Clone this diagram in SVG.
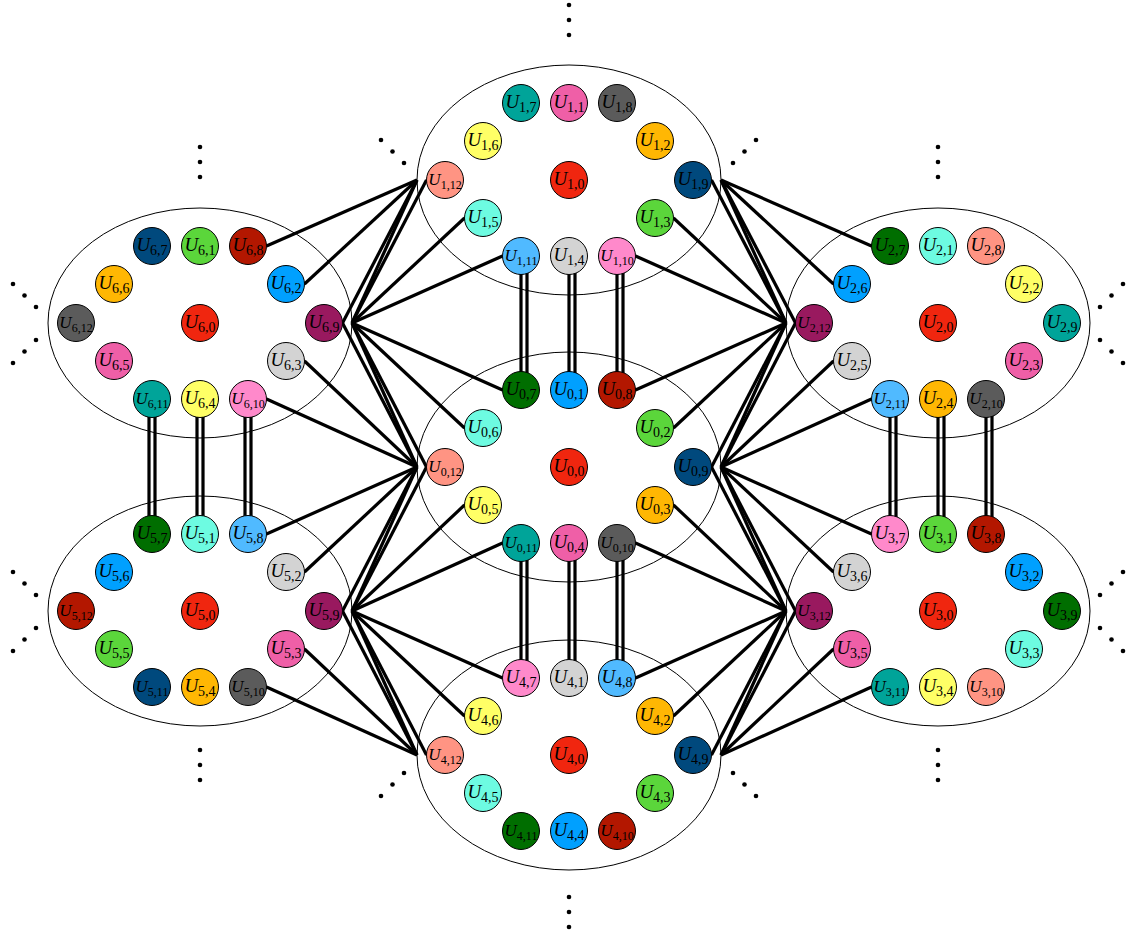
<svg xmlns="http://www.w3.org/2000/svg" width="1132" height="936" viewBox="0 0 1132 936">
<style>
.cl{fill:none;stroke:#000;stroke-width:1}
.e line{stroke:#000;stroke-width:3.2}
.dots circle{fill:#000;stroke:none}
.n{stroke:#000;stroke-width:1}
text{font-family:"Liberation Serif",serif;text-anchor:middle;fill:#000}
.t .u{font-style:italic;font-size:19px}
.t .s{font-size:14px}
.t2 .u{font-style:italic;font-size:17px}
.t2 .s{font-size:12px}
.red{fill:#f0260f}.dgreen{fill:#006e00}.blue{fill:#00a0ff}.dred{fill:#b31700}
.aqua{fill:#6dfbe1}.green{fill:#5bd63b}.salmon{fill:#ff9483}.dblue{fill:#00497d}
.yellow{fill:#ffff66}.orange{fill:#ffb703}.teal{fill:#00a499}.pink{fill:#ef5fa7}
.gray{fill:#5b5b5b}.lgray{fill:#d3d3d3}.lblue{fill:#50baff}.lpink{fill:#ff89cb}.purple{fill:#99195f}
</style>
<g id="clusters">
<ellipse id="c0" class="cl" cx="569" cy="467" rx="152" ry="115"/>
<ellipse id="c1" class="cl" cx="569" cy="180" rx="152" ry="115"/>
<ellipse id="c2" class="cl" cx="938" cy="323" rx="152" ry="115"/>
<ellipse id="c3" class="cl" cx="938" cy="611" rx="152" ry="115"/>
<ellipse id="c4" class="cl" cx="569" cy="755" rx="152" ry="115"/>
<ellipse id="c5" class="cl" cx="200" cy="611" rx="152" ry="115"/>
<ellipse id="c6" class="cl" cx="200" cy="323" rx="152" ry="115"/>
</g>
<g id="ellipsis-dots" class="dots">
<circle cx="569" cy="5" r="2.3"/><circle cx="569" cy="20" r="2.3"/><circle cx="569" cy="35" r="2.3"/>
<circle cx="569" cy="897" r="2.3"/><circle cx="569" cy="912" r="2.3"/><circle cx="569" cy="927" r="2.3"/>
<circle cx="200" cy="147" r="2.3"/><circle cx="200" cy="162" r="2.3"/><circle cx="200" cy="177" r="2.3"/>
<circle cx="938" cy="147" r="2.3"/><circle cx="938" cy="162" r="2.3"/><circle cx="938" cy="177" r="2.3"/>
<circle cx="200" cy="750" r="2.3"/><circle cx="200" cy="765" r="2.3"/><circle cx="200" cy="780" r="2.3"/>
<circle cx="938" cy="750" r="2.3"/><circle cx="938" cy="765" r="2.3"/><circle cx="938" cy="780" r="2.3"/>
<circle cx="381" cy="140" r="2.3"/><circle cx="392.5" cy="151.5" r="2.3"/><circle cx="404" cy="163" r="2.3"/>
<circle cx="733" cy="163" r="2.3"/><circle cx="744.5" cy="151.5" r="2.3"/><circle cx="756" cy="140" r="2.3"/>
<circle cx="381" cy="796" r="2.3"/><circle cx="392.5" cy="784.5" r="2.3"/><circle cx="404" cy="773" r="2.3"/>
<circle cx="733" cy="773" r="2.3"/><circle cx="744.5" cy="784.5" r="2.3"/><circle cx="756" cy="796" r="2.3"/>
<circle cx="13" cy="284" r="2.3"/><circle cx="24.5" cy="295.5" r="2.3"/><circle cx="36" cy="307" r="2.3"/>
<circle cx="13" cy="363" r="2.3"/><circle cx="24.5" cy="351.5" r="2.3"/><circle cx="36" cy="340" r="2.3"/>
<circle cx="13" cy="572" r="2.3"/><circle cx="24.5" cy="583.5" r="2.3"/><circle cx="36" cy="595" r="2.3"/>
<circle cx="13" cy="651" r="2.3"/><circle cx="24.5" cy="639.5" r="2.3"/><circle cx="36" cy="628" r="2.3"/>
<circle cx="1100" cy="307" r="2.3"/><circle cx="1111.5" cy="295.5" r="2.3"/><circle cx="1123" cy="284" r="2.3"/>
<circle cx="1100" cy="340" r="2.3"/><circle cx="1111.5" cy="351.5" r="2.3"/><circle cx="1123" cy="363" r="2.3"/>
<circle cx="1100" cy="595" r="2.3"/><circle cx="1111.5" cy="583.5" r="2.3"/><circle cx="1123" cy="572" r="2.3"/>
<circle cx="1100" cy="628" r="2.3"/><circle cx="1111.5" cy="639.5" r="2.3"/><circle cx="1123" cy="651" r="2.3"/>
</g>
<g id="connectors" class="e">
<!-- C6 to C1 -->
<line x1="266.5" y1="246" x2="417" y2="180"/>
<line x1="304.5" y1="284" x2="417" y2="180"/>
<line x1="352" y1="323" x2="464.5" y2="218"/>
<line x1="352" y1="323" x2="502.5" y2="256"/>
<line x1="342.5" y1="323" x2="417" y2="180"/>
<line x1="352" y1="323" x2="417" y2="180"/>
<line x1="352" y1="323" x2="426.5" y2="180"/>
<!-- C6 to C0 -->
<line x1="304.5" y1="361" x2="417" y2="467"/>
<line x1="266.5" y1="399" x2="417" y2="467"/>
<line x1="352" y1="323" x2="502.5" y2="390"/>
<line x1="352" y1="323" x2="464.5" y2="428"/>
<line x1="342.5" y1="323" x2="417" y2="467"/>
<line x1="352" y1="323" x2="417" y2="467"/>
<line x1="352" y1="323" x2="426.5" y2="467"/>
<!-- C5 to C0 -->
<line x1="266.5" y1="534" x2="417" y2="467"/>
<line x1="304.5" y1="572" x2="417" y2="467"/>
<line x1="352" y1="611" x2="464.5" y2="505"/>
<line x1="352" y1="611" x2="502.5" y2="543"/>
<line x1="342.5" y1="611" x2="417" y2="467"/>
<line x1="352" y1="611" x2="417" y2="467"/>
<line x1="352" y1="611" x2="426.5" y2="467"/>
<!-- C5 to C4 -->
<line x1="304.5" y1="649" x2="417" y2="755"/>
<line x1="266.5" y1="687" x2="417" y2="755"/>
<line x1="352" y1="611" x2="502.5" y2="678"/>
<line x1="352" y1="611" x2="464.5" y2="716"/>
<line x1="342.5" y1="611" x2="417" y2="755"/>
<line x1="352" y1="611" x2="417" y2="755"/>
<line x1="352" y1="611" x2="426.5" y2="755"/>
<!-- C1 to C2 -->
<line x1="673.5" y1="218" x2="786" y2="323"/>
<line x1="635.5" y1="256" x2="786" y2="323"/>
<line x1="721" y1="180" x2="871.5" y2="246"/>
<line x1="721" y1="180" x2="833.5" y2="284"/>
<line x1="711.5" y1="180" x2="786" y2="323"/>
<line x1="721" y1="180" x2="786" y2="323"/>
<line x1="721" y1="180" x2="795.5" y2="323"/>
<!-- C0 to C2 -->
<line x1="635.5" y1="390" x2="786" y2="323"/>
<line x1="673.5" y1="428" x2="786" y2="323"/>
<line x1="721" y1="467" x2="833.5" y2="361"/>
<line x1="721" y1="467" x2="871.5" y2="399"/>
<line x1="711.5" y1="467" x2="786" y2="323"/>
<line x1="721" y1="467" x2="786" y2="323"/>
<line x1="721" y1="467" x2="795.5" y2="323"/>
<!-- C0 to C3 -->
<line x1="673.5" y1="505" x2="786" y2="611"/>
<line x1="635.5" y1="543" x2="786" y2="611"/>
<line x1="721" y1="467" x2="871.5" y2="534"/>
<line x1="721" y1="467" x2="833.5" y2="572"/>
<line x1="711.5" y1="467" x2="786" y2="611"/>
<line x1="721" y1="467" x2="786" y2="611"/>
<line x1="721" y1="467" x2="795.5" y2="611"/>
<!-- C4 to C3 -->
<line x1="635.5" y1="678" x2="786" y2="611"/>
<line x1="673.5" y1="716" x2="786" y2="611"/>
<line x1="721" y1="755" x2="833.5" y2="649"/>
<line x1="721" y1="755" x2="871.5" y2="687"/>
<line x1="711.5" y1="755" x2="786" y2="611"/>
<line x1="721" y1="755" x2="786" y2="611"/>
<line x1="721" y1="755" x2="795.5" y2="611"/>
<!-- vertical double lines -->
<line x1="521" y1="270" x2="521" y2="376"/><line x1="527" y1="270" x2="527" y2="376"/>
<line x1="569" y1="270" x2="569" y2="376"/><line x1="575" y1="270" x2="575" y2="376"/>
<line x1="617" y1="270" x2="617" y2="376"/><line x1="623" y1="270" x2="623" y2="376"/>
<line x1="521" y1="557" x2="521" y2="664"/><line x1="527" y1="557" x2="527" y2="664"/>
<line x1="569" y1="557" x2="569" y2="664"/><line x1="575" y1="557" x2="575" y2="664"/>
<line x1="617" y1="557" x2="617" y2="664"/><line x1="623" y1="557" x2="623" y2="664"/>
<line x1="149" y1="413" x2="149" y2="520"/><line x1="155" y1="413" x2="155" y2="520"/>
<line x1="197" y1="413" x2="197" y2="520"/><line x1="203" y1="413" x2="203" y2="520"/>
<line x1="245" y1="413" x2="245" y2="520"/><line x1="251" y1="413" x2="251" y2="520"/>
<line x1="890" y1="413" x2="890" y2="520"/><line x1="896" y1="413" x2="896" y2="520"/>
<line x1="938" y1="413" x2="938" y2="520"/><line x1="944" y1="413" x2="944" y2="520"/>
<line x1="986" y1="413" x2="986" y2="520"/><line x1="992" y1="413" x2="992" y2="520"/>
</g>
<!-- Cluster 0 -->
<g id="u0-0"><circle class="n red" cx="569" cy="467" r="18.5"/><text class="t" x="569" y="472"><tspan class="u">U</tspan><tspan class="s" dy="3.5">0,0</tspan></text></g>
<g id="u0-1"><circle class="n blue" cx="569" cy="390" r="18.5"/><text class="t" x="569" y="395"><tspan class="u">U</tspan><tspan class="s" dy="3.5">0,1</tspan></text></g>
<g id="u0-2"><circle class="n green" cx="655" cy="428" r="18.5"/><text class="t" x="655" y="433"><tspan class="u">U</tspan><tspan class="s" dy="3.5">0,2</tspan></text></g>
<g id="u0-3"><circle class="n orange" cx="655" cy="505" r="18.5"/><text class="t" x="655" y="510"><tspan class="u">U</tspan><tspan class="s" dy="3.5">0,3</tspan></text></g>
<g id="u0-4"><circle class="n pink" cx="569" cy="543" r="18.5"/><text class="t" x="569" y="548"><tspan class="u">U</tspan><tspan class="s" dy="3.5">0,4</tspan></text></g>
<g id="u0-5"><circle class="n yellow" cx="483" cy="505" r="18.5"/><text class="t" x="483" y="510"><tspan class="u">U</tspan><tspan class="s" dy="3.5">0,5</tspan></text></g>
<g id="u0-6"><circle class="n aqua" cx="483" cy="428" r="18.5"/><text class="t" x="483" y="433"><tspan class="u">U</tspan><tspan class="s" dy="3.5">0,6</tspan></text></g>
<g id="u0-7"><circle class="n dgreen" cx="521" cy="390" r="18.5"/><text class="t" x="521" y="395"><tspan class="u">U</tspan><tspan class="s" dy="3.5">0,7</tspan></text></g>
<g id="u0-8"><circle class="n dred" cx="617" cy="390" r="18.5"/><text class="t" x="617" y="395"><tspan class="u">U</tspan><tspan class="s" dy="3.5">0,8</tspan></text></g>
<g id="u0-9"><circle class="n dblue" cx="693" cy="467" r="18.5"/><text class="t" x="693" y="472"><tspan class="u">U</tspan><tspan class="s" dy="3.5">0,9</tspan></text></g>
<g id="u0-10"><circle class="n gray" cx="617" cy="543" r="18.5"/><text class="t2" x="617" y="548"><tspan class="u">U</tspan><tspan class="s" dy="3.5">0,10</tspan></text></g>
<g id="u0-11"><circle class="n teal" cx="521" cy="543" r="18.5"/><text class="t2" x="521" y="548"><tspan class="u">U</tspan><tspan class="s" dy="3.5">0,11</tspan></text></g>
<g id="u0-12"><circle class="n salmon" cx="445" cy="467" r="18.5"/><text class="t2" x="445" y="472"><tspan class="u">U</tspan><tspan class="s" dy="3.5">0,12</tspan></text></g>
<!-- Cluster 1 -->
<g id="u1-0"><circle class="n red" cx="569" cy="180" r="18.5"/><text class="t" x="569" y="185"><tspan class="u">U</tspan><tspan class="s" dy="3.5">1,0</tspan></text></g>
<g id="u1-1"><circle class="n pink" cx="569" cy="103" r="18.5"/><text class="t" x="569" y="108"><tspan class="u">U</tspan><tspan class="s" dy="3.5">1,1</tspan></text></g>
<g id="u1-2"><circle class="n orange" cx="655" cy="141" r="18.5"/><text class="t" x="655" y="146"><tspan class="u">U</tspan><tspan class="s" dy="3.5">1,2</tspan></text></g>
<g id="u1-3"><circle class="n green" cx="655" cy="218" r="18.5"/><text class="t" x="655" y="223"><tspan class="u">U</tspan><tspan class="s" dy="3.5">1,3</tspan></text></g>
<g id="u1-4"><circle class="n lgray" cx="569" cy="256" r="18.5"/><text class="t" x="569" y="261"><tspan class="u">U</tspan><tspan class="s" dy="3.5">1,4</tspan></text></g>
<g id="u1-5"><circle class="n aqua" cx="483" cy="218" r="18.5"/><text class="t" x="483" y="223"><tspan class="u">U</tspan><tspan class="s" dy="3.5">1,5</tspan></text></g>
<g id="u1-6"><circle class="n yellow" cx="483" cy="141" r="18.5"/><text class="t" x="483" y="146"><tspan class="u">U</tspan><tspan class="s" dy="3.5">1,6</tspan></text></g>
<g id="u1-7"><circle class="n teal" cx="521" cy="103" r="18.5"/><text class="t" x="521" y="108"><tspan class="u">U</tspan><tspan class="s" dy="3.5">1,7</tspan></text></g>
<g id="u1-8"><circle class="n gray" cx="617" cy="103" r="18.5"/><text class="t" x="617" y="108"><tspan class="u">U</tspan><tspan class="s" dy="3.5">1,8</tspan></text></g>
<g id="u1-9"><circle class="n dblue" cx="693" cy="180" r="18.5"/><text class="t" x="693" y="185"><tspan class="u">U</tspan><tspan class="s" dy="3.5">1,9</tspan></text></g>
<g id="u1-10"><circle class="n lpink" cx="617" cy="256" r="18.5"/><text class="t2" x="617" y="261"><tspan class="u">U</tspan><tspan class="s" dy="3.5">1,10</tspan></text></g>
<g id="u1-11"><circle class="n lblue" cx="521" cy="256" r="18.5"/><text class="t2" x="521" y="261"><tspan class="u">U</tspan><tspan class="s" dy="3.5">1,11</tspan></text></g>
<g id="u1-12"><circle class="n salmon" cx="445" cy="180" r="18.5"/><text class="t2" x="445" y="185"><tspan class="u">U</tspan><tspan class="s" dy="3.5">1,12</tspan></text></g>
<!-- Cluster 2 -->
<g id="u2-0"><circle class="n red" cx="938" cy="323" r="18.5"/><text class="t" x="938" y="328"><tspan class="u">U</tspan><tspan class="s" dy="3.5">2,0</tspan></text></g>
<g id="u2-1"><circle class="n aqua" cx="938" cy="246" r="18.5"/><text class="t" x="938" y="251"><tspan class="u">U</tspan><tspan class="s" dy="3.5">2,1</tspan></text></g>
<g id="u2-2"><circle class="n yellow" cx="1024" cy="284" r="18.5"/><text class="t" x="1024" y="289"><tspan class="u">U</tspan><tspan class="s" dy="3.5">2,2</tspan></text></g>
<g id="u2-3"><circle class="n pink" cx="1024" cy="361" r="18.5"/><text class="t" x="1024" y="366"><tspan class="u">U</tspan><tspan class="s" dy="3.5">2,3</tspan></text></g>
<g id="u2-4"><circle class="n orange" cx="938" cy="399" r="18.5"/><text class="t" x="938" y="404"><tspan class="u">U</tspan><tspan class="s" dy="3.5">2,4</tspan></text></g>
<g id="u2-5"><circle class="n lgray" cx="852" cy="361" r="18.5"/><text class="t" x="852" y="366"><tspan class="u">U</tspan><tspan class="s" dy="3.5">2,5</tspan></text></g>
<g id="u2-6"><circle class="n blue" cx="852" cy="284" r="18.5"/><text class="t" x="852" y="289"><tspan class="u">U</tspan><tspan class="s" dy="3.5">2,6</tspan></text></g>
<g id="u2-7"><circle class="n dgreen" cx="890" cy="246" r="18.5"/><text class="t" x="890" y="251"><tspan class="u">U</tspan><tspan class="s" dy="3.5">2,7</tspan></text></g>
<g id="u2-8"><circle class="n salmon" cx="986" cy="246" r="18.5"/><text class="t" x="986" y="251"><tspan class="u">U</tspan><tspan class="s" dy="3.5">2,8</tspan></text></g>
<g id="u2-9"><circle class="n teal" cx="1062" cy="323" r="18.5"/><text class="t" x="1062" y="328"><tspan class="u">U</tspan><tspan class="s" dy="3.5">2,9</tspan></text></g>
<g id="u2-10"><circle class="n gray" cx="986" cy="399" r="18.5"/><text class="t2" x="986" y="404"><tspan class="u">U</tspan><tspan class="s" dy="3.5">2,10</tspan></text></g>
<g id="u2-11"><circle class="n lblue" cx="890" cy="399" r="18.5"/><text class="t2" x="890" y="404"><tspan class="u">U</tspan><tspan class="s" dy="3.5">2,11</tspan></text></g>
<g id="u2-12"><circle class="n purple" cx="814" cy="323" r="18.5"/><text class="t2" x="814" y="328"><tspan class="u">U</tspan><tspan class="s" dy="3.5">2,12</tspan></text></g>
<!-- Cluster 3 -->
<g id="u3-0"><circle class="n red" cx="938" cy="611" r="18.5"/><text class="t" x="938" y="616"><tspan class="u">U</tspan><tspan class="s" dy="3.5">3,0</tspan></text></g>
<g id="u3-1"><circle class="n green" cx="938" cy="534" r="18.5"/><text class="t" x="938" y="539"><tspan class="u">U</tspan><tspan class="s" dy="3.5">3,1</tspan></text></g>
<g id="u3-2"><circle class="n blue" cx="1024" cy="572" r="18.5"/><text class="t" x="1024" y="577"><tspan class="u">U</tspan><tspan class="s" dy="3.5">3,2</tspan></text></g>
<g id="u3-3"><circle class="n aqua" cx="1024" cy="649" r="18.5"/><text class="t" x="1024" y="654"><tspan class="u">U</tspan><tspan class="s" dy="3.5">3,3</tspan></text></g>
<g id="u3-4"><circle class="n yellow" cx="938" cy="687" r="18.5"/><text class="t" x="938" y="692"><tspan class="u">U</tspan><tspan class="s" dy="3.5">3,4</tspan></text></g>
<g id="u3-5"><circle class="n pink" cx="852" cy="649" r="18.5"/><text class="t" x="852" y="654"><tspan class="u">U</tspan><tspan class="s" dy="3.5">3,5</tspan></text></g>
<g id="u3-6"><circle class="n lgray" cx="852" cy="572" r="18.5"/><text class="t" x="852" y="577"><tspan class="u">U</tspan><tspan class="s" dy="3.5">3,6</tspan></text></g>
<g id="u3-7"><circle class="n lpink" cx="890" cy="534" r="18.5"/><text class="t" x="890" y="539"><tspan class="u">U</tspan><tspan class="s" dy="3.5">3,7</tspan></text></g>
<g id="u3-8"><circle class="n dred" cx="986" cy="534" r="18.5"/><text class="t" x="986" y="539"><tspan class="u">U</tspan><tspan class="s" dy="3.5">3,8</tspan></text></g>
<g id="u3-9"><circle class="n dgreen" cx="1062" cy="611" r="18.5"/><text class="t" x="1062" y="616"><tspan class="u">U</tspan><tspan class="s" dy="3.5">3,9</tspan></text></g>
<g id="u3-10"><circle class="n salmon" cx="986" cy="687" r="18.5"/><text class="t2" x="986" y="692"><tspan class="u">U</tspan><tspan class="s" dy="3.5">3,10</tspan></text></g>
<g id="u3-11"><circle class="n teal" cx="890" cy="687" r="18.5"/><text class="t2" x="890" y="692"><tspan class="u">U</tspan><tspan class="s" dy="3.5">3,11</tspan></text></g>
<g id="u3-12"><circle class="n purple" cx="814" cy="611" r="18.5"/><text class="t2" x="814" y="616"><tspan class="u">U</tspan><tspan class="s" dy="3.5">3,12</tspan></text></g>
<!-- Cluster 4 -->
<g id="u4-0"><circle class="n red" cx="569" cy="755" r="18.5"/><text class="t" x="569" y="760"><tspan class="u">U</tspan><tspan class="s" dy="3.5">4,0</tspan></text></g>
<g id="u4-1"><circle class="n lgray" cx="569" cy="678" r="18.5"/><text class="t" x="569" y="683"><tspan class="u">U</tspan><tspan class="s" dy="3.5">4,1</tspan></text></g>
<g id="u4-2"><circle class="n orange" cx="655" cy="716" r="18.5"/><text class="t" x="655" y="721"><tspan class="u">U</tspan><tspan class="s" dy="3.5">4,2</tspan></text></g>
<g id="u4-3"><circle class="n green" cx="655" cy="793" r="18.5"/><text class="t" x="655" y="798"><tspan class="u">U</tspan><tspan class="s" dy="3.5">4,3</tspan></text></g>
<g id="u4-4"><circle class="n blue" cx="569" cy="831" r="18.5"/><text class="t" x="569" y="836"><tspan class="u">U</tspan><tspan class="s" dy="3.5">4,4</tspan></text></g>
<g id="u4-5"><circle class="n aqua" cx="483" cy="793" r="18.5"/><text class="t" x="483" y="798"><tspan class="u">U</tspan><tspan class="s" dy="3.5">4,5</tspan></text></g>
<g id="u4-6"><circle class="n yellow" cx="483" cy="716" r="18.5"/><text class="t" x="483" y="721"><tspan class="u">U</tspan><tspan class="s" dy="3.5">4,6</tspan></text></g>
<g id="u4-7"><circle class="n lpink" cx="521" cy="678" r="18.5"/><text class="t" x="521" y="683"><tspan class="u">U</tspan><tspan class="s" dy="3.5">4,7</tspan></text></g>
<g id="u4-8"><circle class="n lblue" cx="617" cy="678" r="18.5"/><text class="t" x="617" y="683"><tspan class="u">U</tspan><tspan class="s" dy="3.5">4,8</tspan></text></g>
<g id="u4-9"><circle class="n dblue" cx="693" cy="755" r="18.5"/><text class="t" x="693" y="760"><tspan class="u">U</tspan><tspan class="s" dy="3.5">4,9</tspan></text></g>
<g id="u4-10"><circle class="n dred" cx="617" cy="831" r="18.5"/><text class="t2" x="617" y="836"><tspan class="u">U</tspan><tspan class="s" dy="3.5">4,10</tspan></text></g>
<g id="u4-11"><circle class="n dgreen" cx="521" cy="831" r="18.5"/><text class="t2" x="521" y="836"><tspan class="u">U</tspan><tspan class="s" dy="3.5">4,11</tspan></text></g>
<g id="u4-12"><circle class="n salmon" cx="445" cy="755" r="18.5"/><text class="t2" x="445" y="760"><tspan class="u">U</tspan><tspan class="s" dy="3.5">4,12</tspan></text></g>
<!-- Cluster 5 -->
<g id="u5-0"><circle class="n red" cx="200" cy="611" r="18.5"/><text class="t" x="200" y="616"><tspan class="u">U</tspan><tspan class="s" dy="3.5">5,0</tspan></text></g>
<g id="u5-1"><circle class="n aqua" cx="200" cy="534" r="18.5"/><text class="t" x="200" y="539"><tspan class="u">U</tspan><tspan class="s" dy="3.5">5,1</tspan></text></g>
<g id="u5-2"><circle class="n lgray" cx="286" cy="572" r="18.5"/><text class="t" x="286" y="577"><tspan class="u">U</tspan><tspan class="s" dy="3.5">5,2</tspan></text></g>
<g id="u5-3"><circle class="n pink" cx="286" cy="649" r="18.5"/><text class="t" x="286" y="654"><tspan class="u">U</tspan><tspan class="s" dy="3.5">5,3</tspan></text></g>
<g id="u5-4"><circle class="n orange" cx="200" cy="687" r="18.5"/><text class="t" x="200" y="692"><tspan class="u">U</tspan><tspan class="s" dy="3.5">5,4</tspan></text></g>
<g id="u5-5"><circle class="n green" cx="114" cy="649" r="18.5"/><text class="t" x="114" y="654"><tspan class="u">U</tspan><tspan class="s" dy="3.5">5,5</tspan></text></g>
<g id="u5-6"><circle class="n blue" cx="114" cy="572" r="18.5"/><text class="t" x="114" y="577"><tspan class="u">U</tspan><tspan class="s" dy="3.5">5,6</tspan></text></g>
<g id="u5-7"><circle class="n dgreen" cx="152" cy="534" r="18.5"/><text class="t" x="152" y="539"><tspan class="u">U</tspan><tspan class="s" dy="3.5">5,7</tspan></text></g>
<g id="u5-8"><circle class="n lblue" cx="248" cy="534" r="18.5"/><text class="t" x="248" y="539"><tspan class="u">U</tspan><tspan class="s" dy="3.5">5,8</tspan></text></g>
<g id="u5-9"><circle class="n purple" cx="324" cy="611" r="18.5"/><text class="t" x="324" y="616"><tspan class="u">U</tspan><tspan class="s" dy="3.5">5,9</tspan></text></g>
<g id="u5-10"><circle class="n gray" cx="248" cy="687" r="18.5"/><text class="t2" x="248" y="692"><tspan class="u">U</tspan><tspan class="s" dy="3.5">5,10</tspan></text></g>
<g id="u5-11"><circle class="n dblue" cx="152" cy="687" r="18.5"/><text class="t2" x="152" y="692"><tspan class="u">U</tspan><tspan class="s" dy="3.5">5,11</tspan></text></g>
<g id="u5-12"><circle class="n dred" cx="76" cy="611" r="18.5"/><text class="t2" x="76" y="616"><tspan class="u">U</tspan><tspan class="s" dy="3.5">5,12</tspan></text></g>
<!-- Cluster 6 -->
<g id="u6-0"><circle class="n red" cx="200" cy="323" r="18.5"/><text class="t" x="200" y="328"><tspan class="u">U</tspan><tspan class="s" dy="3.5">6,0</tspan></text></g>
<g id="u6-1"><circle class="n green" cx="200" cy="246" r="18.5"/><text class="t" x="200" y="251"><tspan class="u">U</tspan><tspan class="s" dy="3.5">6,1</tspan></text></g>
<g id="u6-2"><circle class="n blue" cx="286" cy="284" r="18.5"/><text class="t" x="286" y="289"><tspan class="u">U</tspan><tspan class="s" dy="3.5">6,2</tspan></text></g>
<g id="u6-3"><circle class="n lgray" cx="286" cy="361" r="18.5"/><text class="t" x="286" y="366"><tspan class="u">U</tspan><tspan class="s" dy="3.5">6,3</tspan></text></g>
<g id="u6-4"><circle class="n yellow" cx="200" cy="399" r="18.5"/><text class="t" x="200" y="404"><tspan class="u">U</tspan><tspan class="s" dy="3.5">6,4</tspan></text></g>
<g id="u6-5"><circle class="n pink" cx="114" cy="361" r="18.5"/><text class="t" x="114" y="366"><tspan class="u">U</tspan><tspan class="s" dy="3.5">6,5</tspan></text></g>
<g id="u6-6"><circle class="n orange" cx="114" cy="284" r="18.5"/><text class="t" x="114" y="289"><tspan class="u">U</tspan><tspan class="s" dy="3.5">6,6</tspan></text></g>
<g id="u6-7"><circle class="n dblue" cx="152" cy="246" r="18.5"/><text class="t" x="152" y="251"><tspan class="u">U</tspan><tspan class="s" dy="3.5">6,7</tspan></text></g>
<g id="u6-8"><circle class="n dred" cx="248" cy="246" r="18.5"/><text class="t" x="248" y="251"><tspan class="u">U</tspan><tspan class="s" dy="3.5">6,8</tspan></text></g>
<g id="u6-9"><circle class="n purple" cx="324" cy="323" r="18.5"/><text class="t" x="324" y="328"><tspan class="u">U</tspan><tspan class="s" dy="3.5">6,9</tspan></text></g>
<g id="u6-10"><circle class="n lpink" cx="248" cy="399" r="18.5"/><text class="t2" x="248" y="404"><tspan class="u">U</tspan><tspan class="s" dy="3.5">6,10</tspan></text></g>
<g id="u6-11"><circle class="n teal" cx="152" cy="399" r="18.5"/><text class="t2" x="152" y="404"><tspan class="u">U</tspan><tspan class="s" dy="3.5">6,11</tspan></text></g>
<g id="u6-12"><circle class="n gray" cx="76" cy="323" r="18.5"/><text class="t2" x="76" y="328"><tspan class="u">U</tspan><tspan class="s" dy="3.5">6,12</tspan></text></g>
</svg>
